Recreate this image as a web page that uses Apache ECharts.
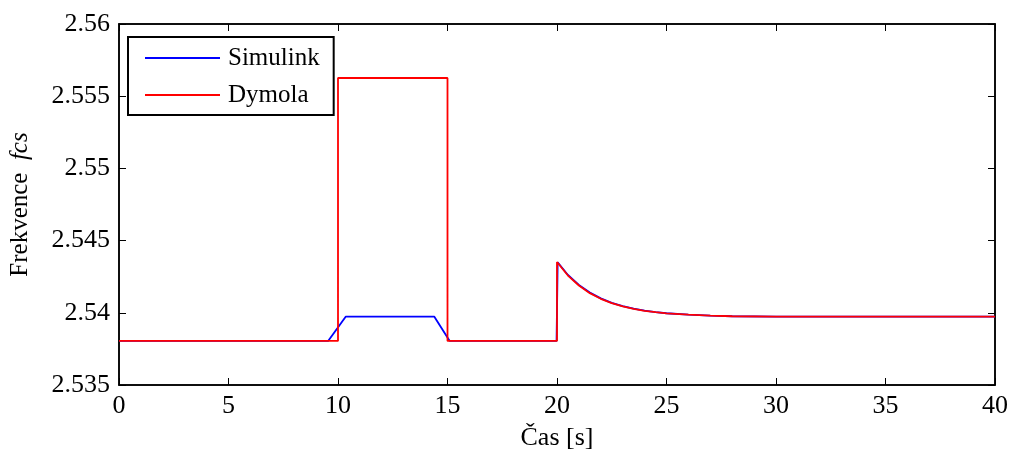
<!DOCTYPE html>
<html>
<head>
    <meta charset="utf-8">
    <title>ECharts</title>
    <script src="https://cdn.jsdelivr.net/npm/echarts@6/dist/echarts.min.js"></script>
    <style type="text/css">
        html, body {
            height: 100%;
            margin: 0;
            background: #fff;
        }
    </style>
</head>
<body>
<div id="main" style="width: 1012px;height:457px;"></div>
<script type="text/javascript">
    // hodnoty
    var xTicks = [0, 5, 10, 15, 20, 25, 30, 35, 40];
    var yTicks = [2.535, 2.54, 2.545, 2.55, 2.555, 2.56];

    var simulinkT = [0, 9.55, 10.35, 14.4, 15.1, 19.98, 20.03, 20.5, 21, 21.5, 22, 22.5, 23, 23.5, 24, 24.5, 25, 26, 27, 28, 30, 40];
    var simulinkV = [2.53805, 2.53805, 2.53973, 2.53973, 2.53805, 2.53805, 2.54350, 2.54262, 2.54193, 2.54140, 2.54100, 2.54069, 2.54046, 2.54029, 2.54015, 2.54005, 2.53997, 2.53987, 2.53980, 2.53976, 2.53973, 2.53973];

    var dymolaT = [0, 10, 10, 15, 15, 20, 20, 20.5, 21, 21.5, 22, 22.5, 23, 23.5, 24, 24.5, 25, 26, 27, 28, 30, 40];
    var dymolaV = [2.53805, 2.53805, 2.55626, 2.55626, 2.53805, 2.53805, 2.54352, 2.54258, 2.54189, 2.54136, 2.54097, 2.54067, 2.54044, 2.54027, 2.54014, 2.54004, 2.53996, 2.53987, 2.53981, 2.53976, 2.53973, 2.53973];

    function pairs(t, v) {
        return t.map(function (x, i) { return [x, v[i]]; });
    }

    var font = 'Liberation Serif';
    var myChart = echarts.init(document.getElementById('main'), null, {renderer: 'canvas'});

    var axisCommon = {
        axisLine: {show: true, onZero: false, lineStyle: {color: '#000', width: 1.5}},
        axisTick: {show: true, inside: true, length: 7, lineStyle: {color: '#000', width: 1}},
        splitLine: {show: false}
    };

    var option = {
        backgroundColor: '#fff',
        animation: false,
        grid: {left: 117, top: 24, right: 17, bottom: 72, show: true, borderColor: '#000', borderWidth: 1.5},
        legend: {
            left: 128, top: 37, orient: 'vertical',
            backgroundColor: '#fff',
            borderColor: '#000', borderWidth: 2,
            padding: [8, 14, 7, 17],
            icon: 'rect',
            itemWidth: 75, itemHeight: 2, itemGap: 11,
            textStyle: {fontFamily: font, fontSize: 25, lineHeight: 26, color: '#000', padding: [0, 0, 0, 3]},
            data: ['Simulink', 'Dymola']
        },
        xAxis: [
            echarts.util.merge({
                type: 'value', min: xTicks[0], max: xTicks[xTicks.length - 1], interval: 5,
                name: 'Čas [s]', nameLocation: 'middle', nameGap: 40,
                nameTextStyle: {fontFamily: font, fontSize: 26, color: '#000'},
                axisLabel: {fontFamily: font, fontSize: 26, color: '#000', margin: 8}
            }, axisCommon, true),
            echarts.util.merge({
                type: 'value', position: 'top', min: xTicks[0], max: xTicks[xTicks.length - 1], interval: 5,
                axisLabel: {show: false}
            }, axisCommon, true)
        ],
        yAxis: [
            echarts.util.merge({
                type: 'value', min: yTicks[0], max: yTicks[yTicks.length - 1], interval: 0.005,
                name: '{a|Frekvence  }{b|fcs}', nameLocation: 'middle', nameGap: 86, nameRotate: 90,
                nameTextStyle: {
                    color: '#000',
                    rich: {
                        a: {fontFamily: font, fontSize: 25, color: '#000'},
                        b: {fontFamily: font, fontSize: 25, fontStyle: 'italic', color: '#000'}
                    }
                },
                axisLabel: {
                    fontFamily: font, fontSize: 26, color: '#000', margin: 9,
                    formatter: function (v) { return String(+v.toFixed(3)); }
                }
            }, axisCommon, true),
            echarts.util.merge({
                type: 'value', position: 'right', min: yTicks[0], max: yTicks[yTicks.length - 1], interval: 0.005,
                axisLabel: {show: false}
            }, axisCommon, true)
        ],
        series: [{
            name: 'Simulink',
            type: 'line',
            symbol: 'none',
            color: '#0000ff',
            lineStyle: {width: 1.8, color: '#0000ff'},
            data: pairs(simulinkT, simulinkV)
        }, {
            name: 'Dymola',
            type: 'line',
            symbol: 'none',
            color: '#ff0000',
            lineStyle: {width: 1.8, color: '#ff0000'},
            data: pairs(dymolaT, dymolaV)
        }]
    };

    myChart.setOption(option);

    window.addEventListener("resize", function () {
        myChart.resize();
    });
</script>
</body>
</html>
